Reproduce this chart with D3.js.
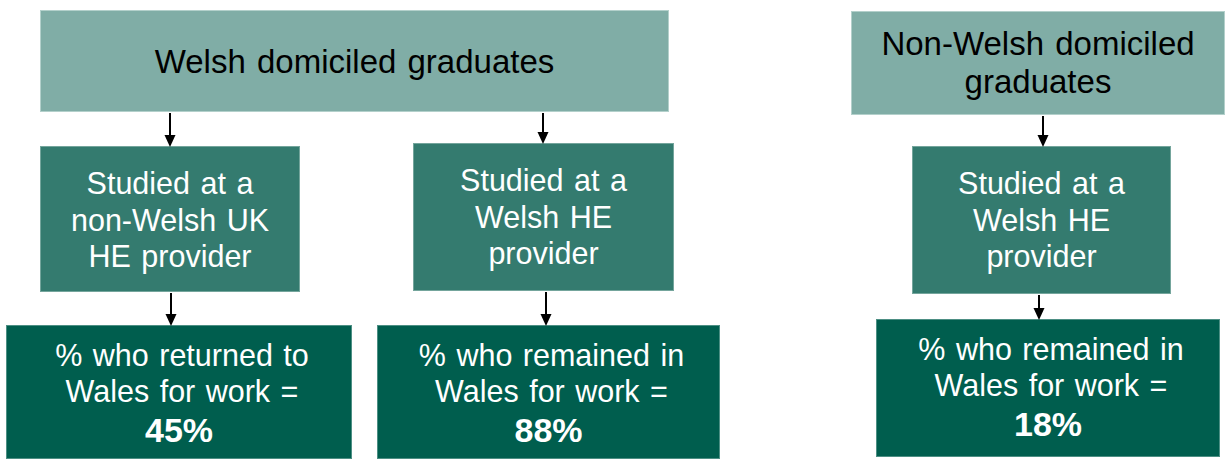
<!DOCTYPE html>
<html>
<head>
<meta charset="utf-8">
<script src="https://cdn.jsdelivr.net/npm/d3@7"></script>
<style>
  html, body { margin: 0; padding: 0; background: #fff; }
  svg { display: block; font-family: "Liberation Sans", Arial, sans-serif; }
</style>
</head>
<body>
<svg id="flow" width="1225" height="459"></svg>
<script>
// data
var headers = [["Welsh domiciled graduates"], ["Non-Welsh domiciled", "graduates"]];
var routes = [
  ["Studied at a", "non-Welsh UK", "HE provider"],
  ["Studied at a", "Welsh HE", "provider"],
  ["Studied at a", "Welsh HE", "provider"]
];
var outcomes = [
  ["% who returned to", "Wales for work ="],
  ["% who remained in", "Wales for work ="],
  ["% who remained in", "Wales for work ="]
];
var values = [45, 88, 18];
var parentOf = [0, 0, 1]; // which header each route hangs from

// layout (boxes drawn by hand-measured geometry)
var headerBox = [
  {x: 40, y: 10, w: 629, h: 102},
  {x: 851, y: 11, w: 374, h: 104}
];
var routeBox = [
  {x: 40, y: 146, w: 260, h: 146},
  {x: 413, y: 143, w: 261, h: 148},
  {x: 912, y: 146, w: 259, h: 148}
];
var outcomeBox = [
  {x: 6, y: 325, w: 346, h: 134},
  {x: 377, y: 325, w: 343, h: 134},
  {x: 876, y: 319, w: 344, h: 138}
];
var arrowX1 = [170, 543, 1043];
var arrowX2 = [171, 546, 1039];

var fill = d3.scaleOrdinal()
  .domain(["header", "route", "outcome"])
  .range(["#80ada6", "#347b6f", "#005e4e"]);
var edge = d3.scaleOrdinal()
  .domain(["header", "route", "outcome"])
  .range(["#b3d0cb", "#74a59c", "#4d8f84"]);

var svg = d3.select("#flow");

function drawBoxes(cls, boxes){
  svg.append("g").attr("class", cls)
    .selectAll("rect")
    .data(boxes)
    .enter().append("rect")
    .attr("x", function(d){ return d.x + 0.5; })
    .attr("y", function(d){ return d.y + 0.5; })
    .attr("width", function(d){ return d.w - 1; })
    .attr("height", function(d){ return d.h - 1; })
    .style("fill", fill(cls))
    .style("stroke", edge(cls))
    .style("stroke-width", 1);
}
drawBoxes("header", headerBox);
drawBoxes("route", routeBox);
drawBoxes("outcome", outcomeBox);

// texts
function drawLines(g, lines, cx, y0, step, size, color, weight, ws){
  g.selectAll(null)
    .data(lines)
    .enter().append("text")
    .attr("x", cx)
    .attr("y", function(d, i){ return y0 + i * step; })
    .attr("text-anchor", "middle")
    .style("font-size", size + "px")
    .style("font-weight", weight || "normal")
    .style("word-spacing", (ws || 0) + "px")
    .style("fill", color)
    .text(function(d){ return d; });
}

var tg = svg.append("g").attr("class", "labels");
headers.forEach(function(lines, i){
  var b = headerBox[i];
  var y0 = lines.length == 1 ? b.y + 63 : b.y + 44;
  drawLines(tg, lines, b.x + b.w / 2, y0, 38, 33, "#000", "normal", 2);
});
routes.forEach(function(lines, i){
  var b = routeBox[i];
  drawLines(tg, lines, b.x + b.w / 2, b.y + 48, 36.5, 30.5, "#fff", "normal", 2);
});
outcomes.forEach(function(lines, i){
  var b = outcomeBox[i];
  var cx = b.x + b.w / 2 + 3;
  drawLines(tg, lines, cx, b.y + 41, 36, 30.5, "#fff", "normal", 2);
  drawLines(tg, [values[i] + "%"], b.x + b.w / 2, b.y + 117, 0, 34, "#fff", "bold");
});

// arrows
function arrow(x, y1, y2){
  var g = svg.append("g").attr("class", "arrow");
  g.append("line")
    .attr("x1", x).attr("x2", x)
    .attr("y1", y1).attr("y2", y2 - 10)
    .style("stroke", "#000")
    .style("stroke-width", 2);
  g.append("path")
    .attr("d", "M" + (x - 5.5) + "," + (y2 - 12) + "L" + (x + 5.5) + "," + (y2 - 12) + "L" + x + "," + y2 + "Z")
    .style("fill", "#000");
}
routeBox.forEach(function(b, i){
  var h = headerBox[parentOf[i]];
  arrow(arrowX1[i], h.y + h.h + 1, b.y + 1);
  arrow(arrowX2[i], b.y + b.h + 1, outcomeBox[i].y + 1);
});
</script>
</body>
</html>
